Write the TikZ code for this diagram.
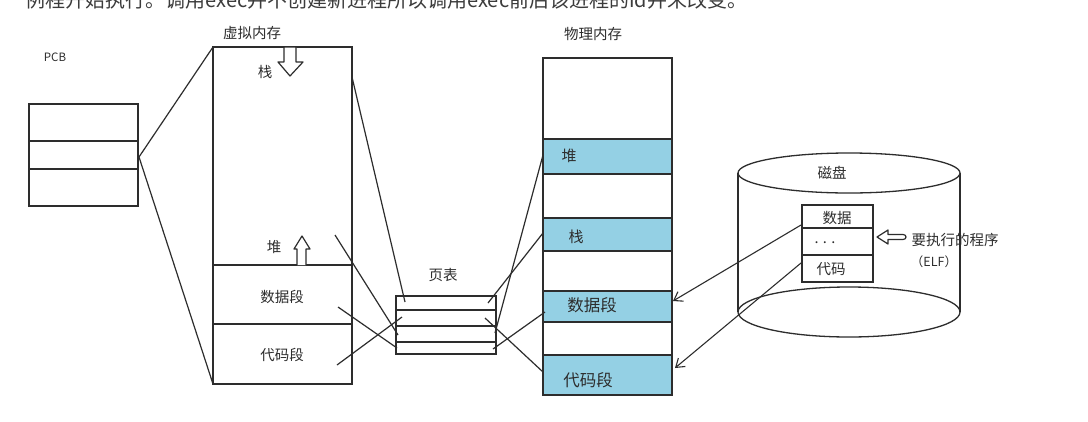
\documentclass[tikz,border=0pt]{standalone}
\usepackage{fontspec}
\setmainfont{Noto Sans CJK SC}
\usetikzlibrary{arrows.meta}
\definecolor{ink}{RGB}{45,45,45}
\definecolor{segblue}{RGB}{148,208,228}
\definecolor{toptxt}{RGB}{60,60,60}
\begin{document}
\begin{tikzpicture}[x=1pt,y=-1pt,line width=1.3pt,color=ink,
  box/.style={draw=ink,inner sep=0pt,outer sep=0pt,line width=1.3pt},
  lbl/.style={inner sep=0pt,text=ink,font=\fontsize{14.5}{16}\selectfont},
  biglbl/.style={inner sep=0pt,text=ink,font=\fontsize{16.5}{18}\selectfont},
  conn/.style={draw=ink,line width=1.2pt},
  diskarrow/.style={draw=ink,line width=1.1pt,-{Straight Barb[length=8pt,width=11pt,line width=1.1pt]}},
  blockarrow/.style={draw=ink,fill=white,line width=1.2pt,line join=round}
]
\clip (0,0) rectangle (1088,421);
\fill[white] (0,0) rectangle (1088,421);

% cut-off text at the top edge
\node[anchor=base west,inner sep=0pt,text=toptxt,font=\fontsize{20}{22}\selectfont] (toptext) at (25,7)
  {例程开始执行。调用exec并不创建新进程所以调用exec前后该进程的id并未改变。};

% PCB
\node[lbl,font=\fontsize{11.5}{13}\selectfont] (pcblbl) at (55,57) {PCB};
\node[box,minimum width=109,minimum height=102] (pcb) at (83.5,155) {};
\draw (pcb.west |- 0,141) -- (pcb.east |- 0,141);
\draw (pcb.west |- 0,169) -- (pcb.east |- 0,169);
\coordinate (pcbR) at (139,157);

% virtual memory
\node[lbl] (virtlbl) at (252,33) {虚拟内存};
\node[box,minimum width=139,minimum height=337] (virt) at (282.5,215.5) {};
\draw (virt.west |- 0,265) -- (virt.east |- 0,265);
\draw (virt.west |- 0,324) -- (virt.east |- 0,324);
\node[lbl] (vstack) at (265,72) {栈};
\node[lbl] (vheap) at (274,247) {堆};
\node[lbl] (vdata) at (282,297) {数据段};
\node[lbl] (vcode) at (282,355) {代码段};
% block arrows
\draw[blockarrow] (284,47) -- (296,47) -- (296,62) -- (303,62) -- (290,76) -- (278,62) -- (284,62) -- cycle;
\draw[blockarrow] (297,265) -- (297,249) -- (294,249) -- (302,236) -- (310,249) -- (306,249) -- (306,265);

\draw[conn] (pcbR) -- (virt.north west);
\draw[conn] (pcbR) -- (virt.south west);

% page table
\node[lbl] (ptlbl) at (443,275) {页表};
\node[box,minimum width=100,minimum height=58] (pt) at (446,325) {};
\foreach \yy in {310,326,342} \draw (pt.west |- 0,\yy) -- (pt.east |- 0,\yy);

% physical memory
\node[lbl] (physlbl) at (593,34) {物理内存};
\fill[segblue] (543,139) rectangle (672,174);
\fill[segblue] (543,218) rectangle (672,251);
\fill[segblue] (543,291) rectangle (672,322);
\fill[segblue] (543,355) rectangle (672,395);
\node[box,minimum width=129,minimum height=337] (phys) at (607.5,226.5) {};
\foreach \yy in {139,174,218,251,291,322,355} \draw (phys.west |- 0,\yy) -- (phys.east |- 0,\yy);
\node[biglbl,font=\fontsize{15}{17}\selectfont] (pheap) at (569,156) {堆};
\node[biglbl,font=\fontsize{15}{17}\selectfont] (pstack) at (576,237) {栈};
\node[biglbl] (pdata) at (592,305) {数据段};
\node[biglbl] (pcode) at (588,380) {代码段};

% connectors virtual -> page table
\coordinate (v1) at (352,77);  \coordinate (p1) at (405,302);
\coordinate (v2) at (335,235); \coordinate (p2) at (398,335);
\coordinate (v3) at (338,307); \coordinate (p3) at (397,348);
\coordinate (v4) at (337,365); \coordinate (p4) at (402,317);
\draw[conn] (v1) -- (p1);
\draw[conn] (v2) -- (p2);
\draw[conn] (v3) -- (p3);
\draw[conn] (v4) -- (p4);
% connectors page table -> physical
\coordinate (q1) at (488,303); \coordinate (m1) at (543,233);
\coordinate (q2) at (495,333); \coordinate (m2) at (543,155);
\coordinate (q3) at (485,318); \coordinate (m3) at (543,372);
\coordinate (q4) at (493,349); \coordinate (m4) at (545,312);
\draw[conn] (q1) -- (m1);
\draw[conn] (q2) -- (m2);
\draw[conn] (q3) -- (m3);
\draw[conn] (q4) -- (m4);

% disk
\draw (738,173) -- (738,312);
\draw (960,173) -- (960,312);
\draw[fill=white] (849,173) ellipse [x radius=111,y radius=20];
\draw (849,312) ellipse [x radius=111,y radius=25];
\node[lbl] (disklbl) at (832,173) {磁盘};
\node[box,minimum width=71,minimum height=77] (elf) at (837.5,243.5) {};
\draw (elf.west |- 0,228) -- (elf.east |- 0,228);
\draw (elf.west |- 0,255) -- (elf.east |- 0,255);
\node[lbl] (fdata) at (837,218) {数据};
\node[lbl] (fdots) at (825,243) {. . .};
\node[lbl] (fcode) at (831,269) {代码};
\draw[blockarrow] (877,237) -- (888,230) -- (888,234.5) -- (903,234.5) .. controls (907,234.5) and (907,239.5) .. (903,239.5) -- (888,239.5) -- (888,244) -- cycle;
\node[lbl] (prog) at (955,240) {要执行的程序};
\node[lbl,font=\fontsize{12.5}{14}\selectfont] (elflbl) at (934,262) {（ELF）};

\coordinate (d1) at (801,225);
\coordinate (d2) at (801,263);
\draw[diskarrow] (d1) -- (673,301);
\draw[diskarrow] (d2) -- (675,368);
\end{tikzpicture}
\end{document}
